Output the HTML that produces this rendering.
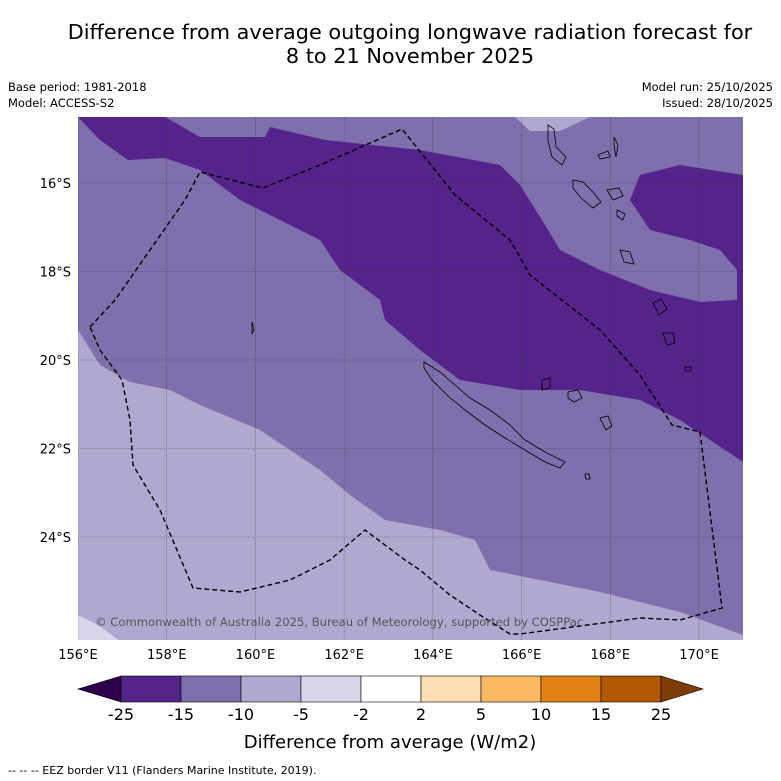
<!DOCTYPE html>
<html><head><meta charset="utf-8"><style>
body{margin:0;background:#fff;width:781px;height:781px;overflow:hidden;font-family:"DejaVu Sans","Liberation Sans",sans-serif}
svg{display:block}
</style></head><body>
<svg id="c" width="781" height="781" viewBox="0 0 781 781" font-family="DejaVu Sans, Liberation Sans, sans-serif">
<text x="410" y="39" font-size="20.8" text-anchor="middle">Difference from average outgoing longwave radiation forecast for</text>
<text x="410" y="63" font-size="20.8" text-anchor="middle">8 to 21 November 2025</text>
<text x="8" y="91" font-size="11.5">Base period: 1981-2018</text>
<text x="8" y="107" font-size="11.5">Model: ACCESS-S2</text>
<text x="773" y="91" font-size="11.5" text-anchor="end">Model run: 25/10/2025</text>
<text x="773" y="107" font-size="11.5" text-anchor="end">Issued: 28/10/2025</text>
<defs><clipPath id="mc"><rect x="78" y="117" width="665" height="523"/></clipPath></defs>
<g clip-path="url(#mc)">
<rect x="78" y="117" width="665" height="523" fill="#7f6fac"/>
<polygon fill="#54248a" points="78,117 165,117 200,137 265,137 270,127 325,140 420,150 500,165 520,185 545,225 560,250 600,270 650,290 700,302 737,300 737,270 720,250 690,240 650,230 630,200 640,175 680,165 743,175 743,462 680,420 640,400 580,390 520,390 460,380 420,350 385,320 380,300 340,270 320,240 290,225 240,200 200,170 165,158 128,160 100,140 78,117"/>
<polygon fill="#b1a8d0" points="78,330 100,365 130,382 170,390 200,405 260,430 320,470 350,495 385,520 440,530 475,540 490,570 530,578 600,592 680,612 743,635 743,640 78,640"/>
<polygon fill="#b1a8d0" points="515,117 530,131 560,131 590,117"/>
<polygon fill="#d8d6ea" points="78,615 100,626 118,640 78,640"/>
<g id="grid" stroke="#333" stroke-width="0.6" stroke-dasharray="1,1" opacity="0.7"></g>
<g fill="none" stroke="#000" stroke-width="0.8">
<path d="M424,362 L440,372 455,385 470,398 490,410 510,425 525,440 545,452 565,462 560,468 545,462 525,450 505,438 485,425 465,410 448,396 432,380 424,368Z"/>
<path d="M568,392 l10,-2 4,8 -8,4 -6,-4Z M600,418 l8,-2 4,10 -6,4Z M585,474 l4,0 1,5 -4,0Z"/>
<path d="M548,125 l6,4 2,18 10,10 -4,8 -10,-8 -4,-16Z M573,180 l10,2 10,10 8,10 -8,6 -12,-10 -8,-10Z M598,155 l10,-4 2,6 -10,2Z M607,190 l12,-2 4,8 -10,4Z M614,137 l4,8 -2,12 -2,-12Z M620,250 l10,2 4,12 -10,-2Z M617,210 l8,4 -2,6 -6,-4Z"/>
<path d="M653,303 l8,-4 6,10 -8,6Z M663,333 l10,0 2,10 -8,2Z M542,380 l8,-2 0,10 -8,2Z M252,322 l2,8 -2,4Z M685,367 l6,0 0,4 -6,0Z"/>
</g>
<polyline fill="none" stroke="#000" stroke-width="1.4" stroke-dasharray="5,3" points="90,327 115,300 150,250 185,200 200,172 263,188 320,165 402,129 455,195 510,240 530,275 600,330 640,375 672,425 700,432 722,608 680,620 640,618 520,634 510,634 480,615 450,595 420,570 405,560 365,530 330,560 290,580 240,592 193,588 160,510 133,465 130,420 122,380 100,350 90,327"/>
<text x="95" y="626" font-size="11.6" fill="#555">© Commonwealth of Australia 2025, Bureau of Meteorology, supported by COSPPac</text>
</g>
<g id="lab" font-size="13"></g>
<g id="cb"></g>
<text x="390" y="748" font-size="18" text-anchor="middle">Difference from average (W/m2)</text>
<text x="8" y="774" font-size="11">--  --  -- EEZ border V11 (Flanders Marine Institute, 2019).</text>
</svg>
<script>
const lonTicks=[156,158,160,162,164,166,168,170];
const latTicks=[16,18,20,22,24];
const cbTicks=["-25","-15","-10","-5","-2","2","5","10","15","25"];
const cbColors=["#54248a","#7f6fac","#b1a8d0","#d8d6ea","#ffffff","#fddfb3","#fdb863","#e08214","#b35806"];
const ns="http://www.w3.org/2000/svg";
const X=lon=>78+(lon-156)*44.36, Y=lat=>183+(lat-16)*44.25;
const grid=document.getElementById('grid'),lab=document.getElementById('lab'),cb=document.getElementById('cb');
function mk(t,a,p){const e=document.createElementNS(ns,t);for(const k in a)e.setAttribute(k,a[k]);p.appendChild(e);return e;}
lonTicks.forEach(l=>{
 const g=mk('line',{x1:X(l),x2:X(l),y1:117,y2:640},grid);
 
 
 const t=mk('text',{x:X(l),y:659,'text-anchor':'middle'},lab);t.textContent=l+'°E';
 
 
});
latTicks.forEach(l=>{
 const g=mk('line',{x1:78,x2:743,y1:Y(l),y2:Y(l)},grid);
 
 
 const t=mk('text',{x:71,y:Y(l)+5,'text-anchor':'end'},lab);t.textContent=l+'°S';
 
 
});
const x0=121,w=60,y0=676,h=26;
const lt=mk('polygon',{points:`${x0},${y0} 78,${y0+h/2} ${x0},${y0+h}`,fill:'#2d004b',stroke:'#000','stroke-width':0.6},cb);


cbColors.forEach((c,i)=>{
 const r=mk('rect',{x:x0+i*w,y:y0,width:w,height:h,fill:c,stroke:'#000','stroke-width':0.6},cb);
 
 
});
const xe=x0+cbColors.length*w;
const rt=mk('polygon',{points:`${xe},${y0} ${xe+42},${y0+h/2} ${xe},${y0+h}`,fill:'#7f3b08',stroke:'#000','stroke-width':0.6},cb);


cbTicks.forEach((s,i)=>{
 const t=mk('text',{x:x0+i*w,y:720,'text-anchor':'middle','font-size':16},cb);t.textContent=s;
 
 
});
</script>
</body></html>
